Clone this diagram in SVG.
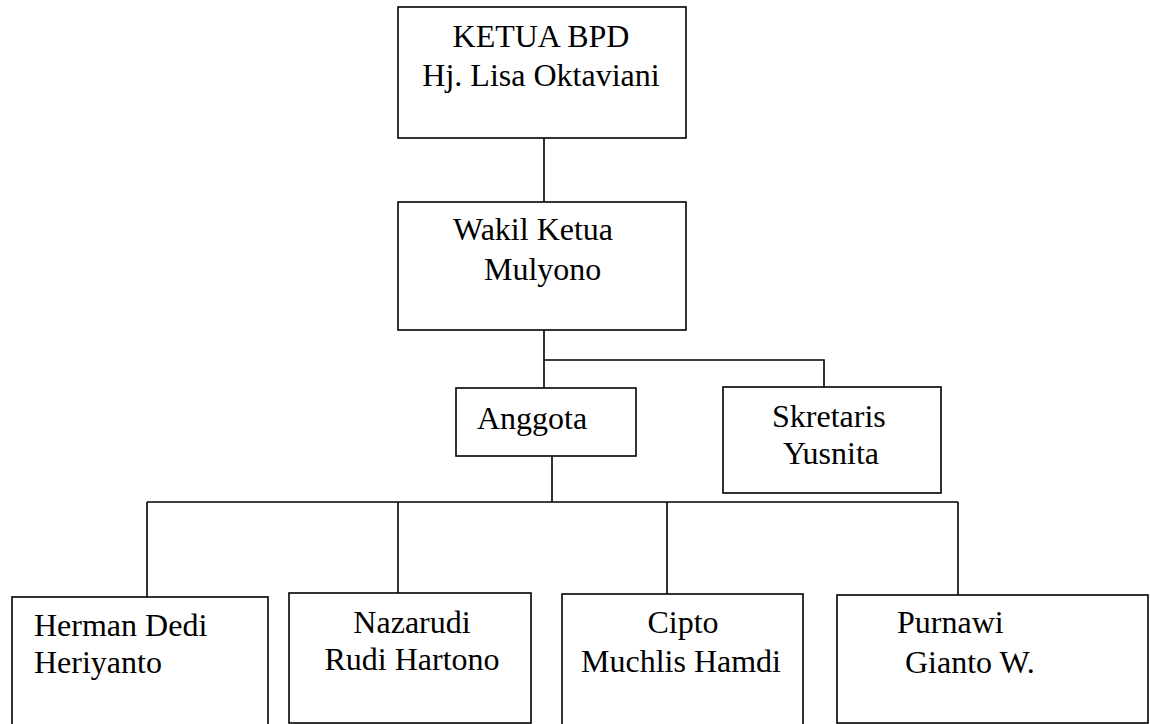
<svg xmlns="http://www.w3.org/2000/svg" width="1150" height="724" viewBox="0 0 1150 724">
<style>
.box{fill:#fff;stroke:#000;stroke-width:1.6}
.ln{fill:none;stroke:#000;stroke-width:1.6}
text{font-family:"Liberation Serif","Times New Roman",serif;font-size:32px;fill:#000}
.m{text-anchor:middle}
</style>
<rect width="1150" height="724" fill="#fff"/>
<g id="connectors">
<path class="ln" d="M544 138V202"/>
<path class="ln" d="M544 330V388M544 360H824V387"/>
<path class="ln" d="M552 456V502M147 502H958M147 502V597M398 502V593M667 502V594M958 502V595"/>
</g>
<g id="ketua">
<rect class="box" x="398" y="7" width="288" height="131"/>
<text class="m" x="541" y="47">KETUA BPD</text>
<text class="m" x="541" y="86">Hj. Lisa Oktaviani</text>
</g>
<g id="wakil">
<rect class="box" x="398" y="202" width="288" height="128"/>
<text x="453" y="240">Wakil Ketua</text>
<text x="484" y="280">Mulyono</text>
</g>
<g id="anggota">
<rect class="box" x="456" y="388" width="180" height="68"/>
<text x="477" y="429">Anggota</text>
</g>
<g id="skretaris">
<rect class="box" x="723" y="387" width="218" height="106"/>
<text x="772" y="427">Skretaris</text>
<text x="783" y="464">Yusnita</text>
</g>
<g id="herman">
<rect class="box" x="12" y="597" width="256" height="140"/>
<text x="34" y="636">Herman Dedi</text>
<text x="34" y="673">Heriyanto</text>
</g>
<g id="nazarudi">
<rect class="box" x="289" y="593" width="242" height="130"/>
<text class="m" x="412" y="633">Nazarudi</text>
<text class="m" x="412" y="670">Rudi Hartono</text>
</g>
<g id="cipto">
<rect class="box" x="562" y="594" width="241" height="140"/>
<text class="m" x="683" y="633">Cipto</text>
<text class="m" x="681" y="672">Muchlis Hamdi</text>
</g>
<g id="purnawi">
<rect class="box" x="837" y="595" width="311" height="128"/>
<text x="897" y="633">Purnawi</text>
<text x="905" y="673">Gianto W.</text>
</g>
</svg>
